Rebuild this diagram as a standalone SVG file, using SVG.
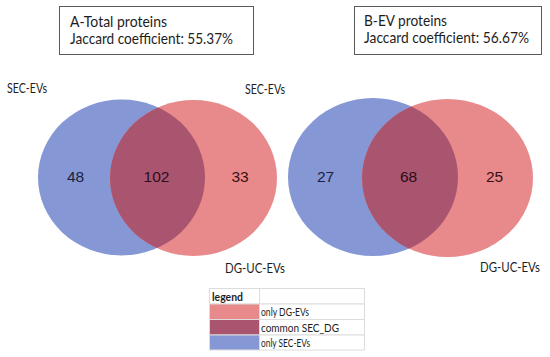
<svg xmlns="http://www.w3.org/2000/svg" width="550" height="357" viewBox="0 0 550 357">
<style>
  text { font-family: Lato, "Liberation Sans", Arial, sans-serif; fill: #1e1e1e; }
  .title { font-size: 15px; }
  .lbl { font-size: 12.5px; }
  .num { font-family: "Liberation Sans", Arial, sans-serif; font-size: 15.5px; text-anchor: middle; }
  .leg { font-size: 12px; }
  .box { fill: #ffffff; stroke: #5a5a5a; stroke-width: 1; }
  .blue { fill: #8598d5; }
  .red { fill: #e8898b; }
  .both { fill: #a9556f; }
  .cell { stroke: #dcdcdc; stroke-width: 1; }
</style>
<defs>
  <clipPath id="clipA"><ellipse cx="121.5" cy="177.5" rx="83.5" ry="78"/></clipPath>
  <clipPath id="clipB"><ellipse cx="373" cy="177" rx="85" ry="79"/></clipPath>
</defs>
<rect width="550" height="357" fill="#ffffff"/>

<g id="boxA">
  <rect class="box" x="59.5" y="6.5" width="194" height="48"/>
  <text class="title" x="70" y="27" textLength="97" lengthAdjust="spacingAndGlyphs">A-Total proteins</text>
  <text class="title" x="70" y="44" textLength="163" lengthAdjust="spacingAndGlyphs">Jaccard coefficient: 55.37%</text>
</g>
<g id="boxB">
  <rect class="box" x="354.5" y="6.5" width="187" height="48"/>
  <text class="title" x="364" y="26" textLength="83" lengthAdjust="spacingAndGlyphs">B-EV proteins</text>
  <text class="title" x="364" y="43" textLength="165" lengthAdjust="spacingAndGlyphs">Jaccard coefficient: 56.67%</text>
</g>

<g id="vennA">
  <ellipse class="blue" cx="121.5" cy="177.5" rx="83.5" ry="78"/>
  <ellipse class="red" cx="193.5" cy="178" rx="83.5" ry="78"/>
  <ellipse class="both" cx="193.5" cy="178" rx="83.5" ry="78" clip-path="url(#clipA)"/>
  <text class="num" x="75.5" y="182" style="fill:#1b2040">48</text>
  <text class="num" x="156.5" y="182" style="fill:#2e0c1c">102</text>
  <text class="num" x="240" y="182" style="fill:#3a1012">33</text>
  <text class="lbl" x="7" y="93" textLength="40" lengthAdjust="spacingAndGlyphs">SEC-EVs</text>
  <text class="lbl" x="245" y="94" textLength="40" lengthAdjust="spacingAndGlyphs">SEC-EVs</text>
  <text class="lbl" x="225" y="273" textLength="60" lengthAdjust="spacingAndGlyphs">DG-UC-EVs</text>
</g>

<g id="vennB">
  <ellipse class="blue" cx="373" cy="177" rx="85" ry="79"/>
  <ellipse class="red" cx="447.5" cy="178" rx="85.5" ry="79"/>
  <ellipse class="both" cx="447.5" cy="178" rx="85.5" ry="79" clip-path="url(#clipB)"/>
  <text class="num" x="325.5" y="182" style="fill:#1b2040">27</text>
  <text class="num" x="408.5" y="182" style="fill:#2e0c1c">68</text>
  <text class="num" x="494.5" y="182" style="fill:#3a1012">25</text>
  <text class="lbl" x="480" y="272" textLength="60" lengthAdjust="spacingAndGlyphs">DG-UC-EVs</text>
</g>

<g id="legend">
  <rect class="cell" x="209.5" y="288.5" width="50" height="15.5" fill="#ffffff"/>
  <rect class="cell" x="259.5" y="288.5" width="105" height="15.5" fill="#ffffff"/>
  <rect class="cell red" x="209.5" y="304" width="50" height="15.5"/>
  <rect class="cell" x="259.5" y="304" width="105" height="15.5" fill="#ffffff"/>
  <rect class="cell both" x="209.5" y="319.5" width="50" height="15.5"/>
  <rect class="cell" x="259.5" y="319.5" width="105" height="15.5" fill="#ffffff"/>
  <rect class="cell blue" x="209.5" y="335" width="50" height="15"/>
  <rect class="cell" x="259.5" y="335" width="105" height="15" fill="#ffffff"/>
  <text class="leg" x="212" y="300.5" font-weight="bold" textLength="31" lengthAdjust="spacingAndGlyphs">legend</text>
  <text class="leg" x="261" y="316" textLength="48" lengthAdjust="spacingAndGlyphs">only DG-EVs</text>
  <text class="leg" x="261" y="331.5" textLength="78" lengthAdjust="spacingAndGlyphs">common SEC_DG</text>
  <text class="leg" x="261" y="347" textLength="49" lengthAdjust="spacingAndGlyphs">only SEC-EVs</text>
</g>
</svg>
